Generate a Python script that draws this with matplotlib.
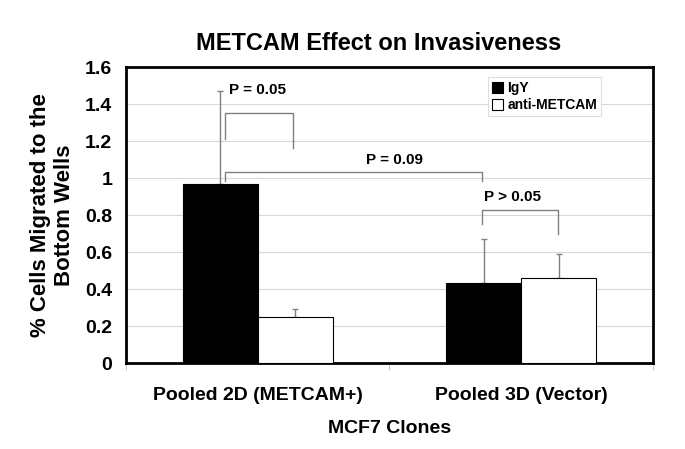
import matplotlib
matplotlib.use("Agg")
import matplotlib.pyplot as plt
import numpy as np
from matplotlib.patches import Patch

plt.rcParams['font.family'] = ['Liberation Sans', 'DejaVu Sans']
plt.rcParams['font.weight'] = 'bold'

# data
clones = ['Pooled 2D (METCAM+)', 'Pooled 3D (Vector)']
igy = [0.97, 0.43]
igy_err = [0.50, 0.24]
anti = [0.25, 0.46]
anti_err = [0.04, 0.13]

# significance brackets: (x left, x right, top, left leg end, right leg end, label, label x, label y)
brackets = [
    (-0.125, 0.135, 1.35, 1.21, 1.165, 'P = 0.05', -0.11, 1.475),
    (-0.125, 0.85, 1.035, 0.985, 0.985, 'P = 0.09', 0.41, 1.10),
    (0.85, 1.14, 0.83, 0.75, 0.70, 'P > 0.05', 0.86, 0.90),
]

fig = plt.figure(figsize=(6.85, 4.49), dpi=100)
ax = fig.add_axes([0.184, 0.1915, 0.769, 0.659])

x = np.arange(len(clones))
w = 0.285
gray = '#808080'
ax.bar(x - w / 2, igy, w, color='black', edgecolor='black', linewidth=0.8, zorder=3)
ax.bar(x + w / 2, anti, w, color='white', edgecolor='black', linewidth=0.8, zorder=3)
ax.errorbar(x - w / 2, igy, yerr=[np.zeros(2), igy_err], fmt='none', ecolor=gray,
            elinewidth=1, capsize=2.5, capthick=1, zorder=2)
ax.errorbar(x + w / 2, anti, yerr=[np.zeros(2), anti_err], fmt='none', ecolor=gray,
            elinewidth=1, capsize=2.5, capthick=1, zorder=2)

for x0, x1, top, l0, l1, lab, tx, ty in brackets:
    ax.plot([x0, x0, x1, x1], [l0, top, top, l1], color=gray, lw=1, zorder=4)
    ax.text(tx, ty, lab, fontsize=11, fontweight='bold', va='center', ha='left', zorder=5)

ax.set_xlim(-0.5, 1.5)
ax.set_ylim(0, 1.6)
ax.set_yticks(np.arange(0, 1.61, 0.2))
ax.set_yticklabels(['0', '0.2', '0.4', '0.6', '0.8', '1', '1.2', '1.4', '1.6'], fontsize=14)
ax.set_xticks(x)
ax.set_xticklabels(clones, fontsize=14)
ax.tick_params(axis='x', length=0, pad=17)
ax.set_xticks([-0.5, 0.5, 1.5], minor=True)
ax.tick_params(axis='x', which='minor', length=5, color='#bbbbbb', direction='out')
ax.tick_params(axis='y', length=0, pad=10)
ax.yaxis.grid(True, color='#d8d8d8', lw=0.8, zorder=0)
for s in ax.spines.values():
    s.set_linewidth(2)

ax.set_title('METCAM Effect on Invasiveness', fontsize=17, fontweight='bold', pad=12, x=0.48)
ax.set_xlabel('MCF7 Clones', fontsize=14, fontweight='bold', labelpad=12)
ax.set_ylabel('% Cells Migrated to the\nBottom Wells', fontsize=16, fontweight='bold')
ax.yaxis.set_label_coords(-0.097, 0.5)

handles = [Patch(facecolor='black', edgecolor='black', lw=0.8),
           Patch(facecolor='white', edgecolor='black', lw=0.8)]
leg = ax.legend(handles, ['IgY', 'anti-METCAM'], loc='upper left', bbox_to_anchor=(0.687, 0.966),
                borderaxespad=0, fontsize=10, handlelength=0.8, handleheight=0.8,
                handletextpad=0.3, borderpad=0.3, labelspacing=0.2, fancybox=False,
                framealpha=1, edgecolor='#dddddd')
leg.get_frame().set_linewidth(0.8)

fig.savefig('out.png', dpi=100)
